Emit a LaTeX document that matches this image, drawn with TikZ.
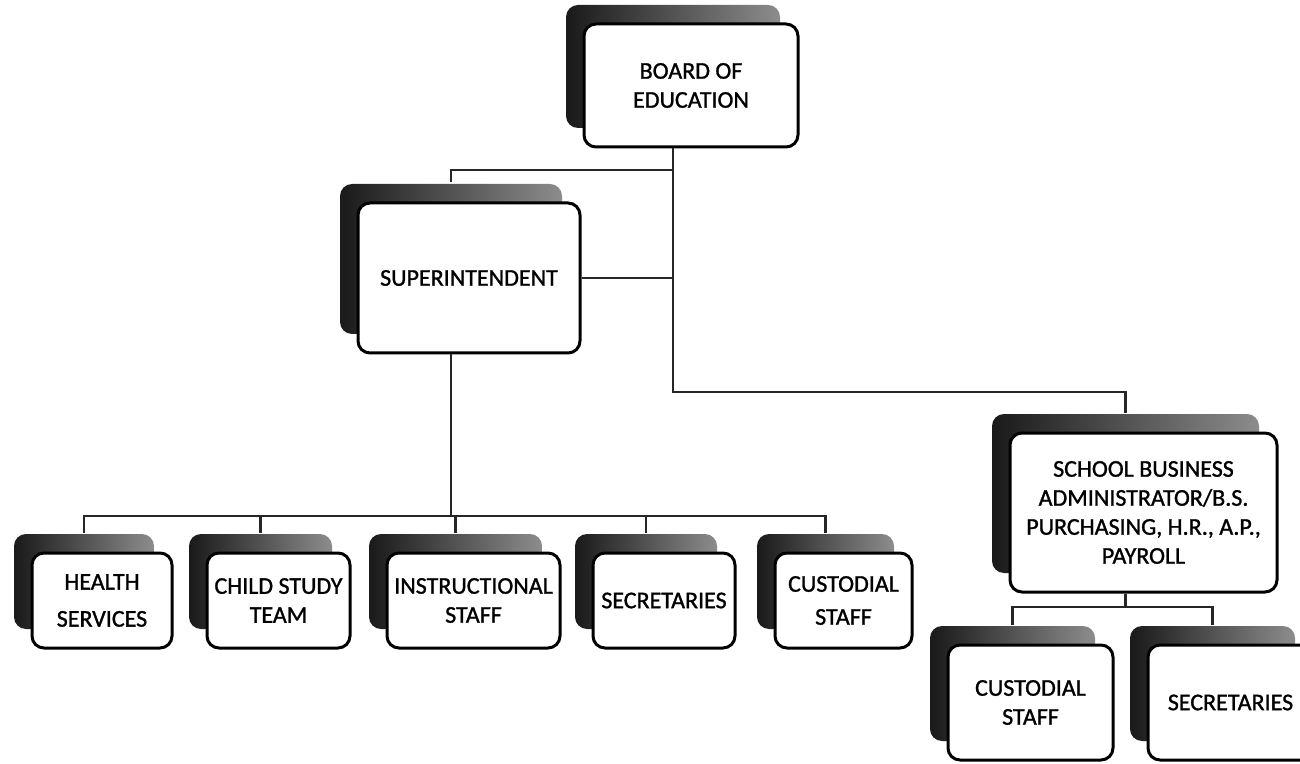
\documentclass[tikz,border=0pt]{standalone}
\usepackage{fontspec}
\setmainfont{Carlito}
\newfontfamily\cardfont{Carlito}[FakeBold=1.2]
\usetikzlibrary{shadows}

\begin{document}
\begin{tikzpicture}[x=0.5pt, y=-0.5pt, thick,
    card/.style = {draw, line width=1.5pt, rounded corners=6pt, fill=white, align=center, inner sep=2pt,
      font=\cardfont\fontsize{12}{14.5}\selectfont,
      copy shadow={shadow xshift=-9pt, shadow yshift=9.5pt, draw=none, left color=black!90, right color=black!45}},
    row/.style = {card, minimum height=47.5pt},
    link/.style = {draw=black!85, line width=1.2pt}]
    \useasboundingbox (0,0) rectangle (1300,764);
    \node[card, minimum width=107pt, minimum height=61.5pt] (board) at (691,85.5) {BOARD OF\\EDUCATION};
    \node[card, minimum width=111pt, minimum height=75pt] (sup) at (469,278) {SUPERINTENDENT};
    \node[card, minimum width=133.5pt, minimum height=79.5pt] (sba) at (1143.5,512.5) {SCHOOL BUSINESS\\ADMINISTRATOR/B.S.\\PURCHASING, H.R., A.P.,\\PAYROLL};
    \node[row, minimum width=70pt] (health) at (102,600.5) {HEALTH\\[4pt]SERVICES};
    \node[row, minimum width=71.5pt] (child) at (278.5,600.5) {CHILD STUDY\\TEAM};
    \node[row, minimum width=86.5pt] (instr) at (473.5,600.5) {INSTRUCTIONAL\\STAFF};
    \node[row, minimum width=71pt] (secr) at (664,600.5) {SECRETARIES};
    \node[row, minimum width=68.5pt] (cust) at (843.5,600.5) {CUSTODIAL\\[2pt]STAFF};
    \node[card, minimum width=82.5pt, minimum height=57.5pt] (cust2) at (1030.5,702.5) {CUSTODIAL\\STAFF};
    \node[card, minimum width=82.5pt, minimum height=57.5pt] (secr2) at (1230.5,702.5) {SECRETARIES};
    \coordinate (trunk) at ([xshift=-9pt]board.south);
    \coordinate (tap) at (673,170);
    \coordinate (bend) at (673,392);
    \coordinate (bus) at (451,516);
    \coordinate (sbabus) at (1125.5,607);
    \draw[link] (trunk) -- (bend) -| ([xshift=-9pt,yshift=9.5pt]sba.north);
    \draw[link] (tap) -| ([xshift=-9pt,yshift=9.5pt]sup.north);
    \draw[link] (sup.east) -- (sup.east -| trunk);
    \draw[link] ([xshift=-9pt]sup.south) -- (bus);
    \foreach \n in {health,child,instr,secr,cust}
        \draw[link] (bus) -| ([xshift=-9pt,yshift=9.5pt]\n.north);
    \draw[link] ([xshift=-9pt]sba.south) -- (sbabus);
    \foreach \n in {cust2,secr2}
        \draw[link] (sbabus) -| ([xshift=-9pt,yshift=9.5pt]\n.north);
\end{tikzpicture}
\end{document}
